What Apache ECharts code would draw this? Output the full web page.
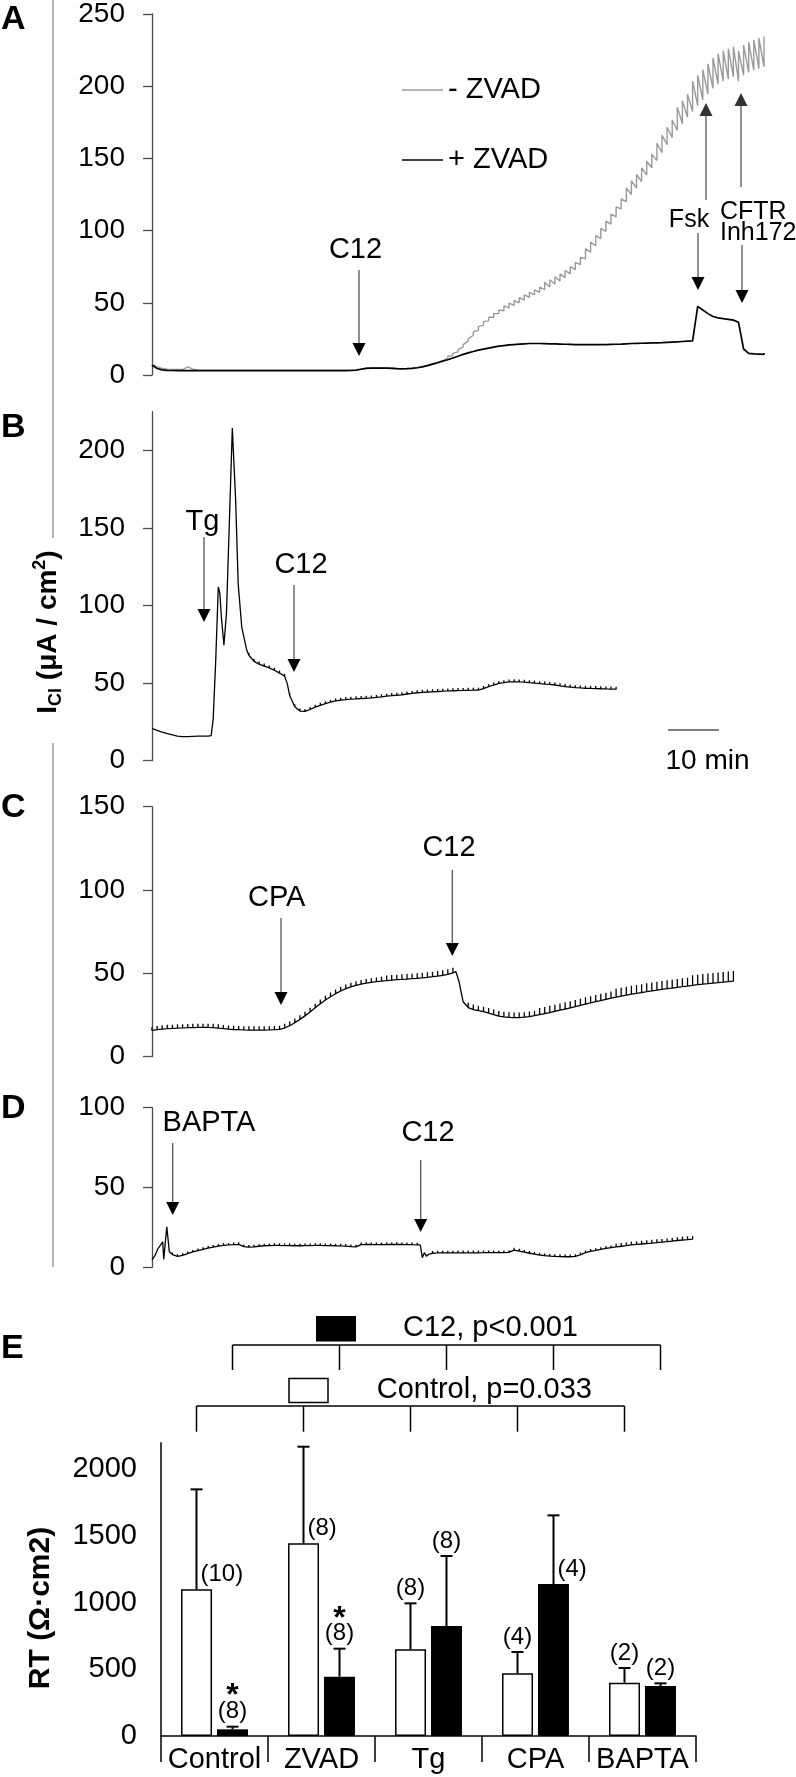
<!DOCTYPE html>
<html><head><meta charset="utf-8">
<script src="https://cdn.jsdelivr.net/npm/echarts@6/dist/echarts.min.js"></script>
<style>html,body{margin:0;padding:0;background:#fff}#c{width:796px;height:1777px}</style>
</head><body><div id="c"></div>
<script>
const FONT = '"Liberation Sans", Arial, Helvetica, sans-serif';

// ---------- Panel A : I_Cl (uA/cm2), one sample per minute ----------
const DT = 1;
const aPlusZvad = [6.9,4.5,3.6,3.2,3.1,3.0,3.0,3.0,3.0,3.0,
3.0,3.0,3.0,3.0,3.0,3.0,3.0,3.0,3.0,3.0,
3.0,3.0,3.0,3.0,3.0,3.0,3.0,3.0,3.0,3.0,
3.0,3.0,3.0,3.0,3.0,3.0,3.0,3.0,3.0,3.1,
3.3,4.0,4.6,4.8,4.8,4.8,4.7,4.6,4.4,4.3,
4.4,4.6,5.0,5.6,6.5,7.5,8.5,9.6,10.6,11.8,
13.0,14.3,15.3,16.3,17.2,17.9,18.6,19.3,20.0,20.4,
20.8,21.1,21.4,21.6,21.8,21.8,21.8,21.7,21.6,21.5,
21.4,21.3,21.2,21.1,21.0,21.0,21.0,21.0,21.0,21.1,
21.2,21.3,21.4,21.6,21.8,21.9,22.0,22.1,22.2,22.3,
22.4,22.6,22.8,23.0,23.2,23.4,23.6,47.5,45.0,42.5,
40.5,39.6,39.0,38.5,38.0,36.5,18.0,15.0,14.6,14.5,
14.3];
const aMinusZvad = [7.5,5.6,4.6,4.1,3.9,3.8,3.8,5.6,4.0,3.5,
3.4,3.4,3.4,3.4,3.4,3.4,3.4,3.4,3.4,3.4,
3.4,3.4,3.4,3.4,3.4,3.4,3.4,3.4,3.4,3.4,
3.4,3.4,3.4,3.4,3.4,3.4,3.4,3.4,3.4,3.5,
3.7,4.2,4.7,4.9,4.9,4.9,4.8,4.7,4.5,4.4,
4.5,4.7,5.1,5.7,6.6,7.6,8.7,10.0,11.5,13.5,
16.0,19.5,23.5,27.5,31.0,34.5,37.5,40.0,42.5,44.5,
46.3,48.2,50.0,52.0,53.8,55.5,57.3,59.2,61.0,63.0,
65.0,67.4,70.0,73.0,76.5,80.5,85.0,89.5,94.5,99.5,
104.5,109.5,115.0,120.0,125.0,129.5,134.0,138.5,143.5,148.5,
154.0,159.5,164.5,169.5,174.0,178.5,182.5,186.5,190.5,194.5,
198.5,201.5,203.5,205.0,206.5,203.5,207.5,209.5,211.0,212.3,
213.5];
// pulse (voltage-clamp) deflection amplitude: [fromMin, toMin, amplitude]
const aPlusPulse = [[62,106,1.0],[108,120,1.0]];
const aMinusPulse = [[58,62,1.5],[63,68,2.5],[69,76,3.5],[77,84,5],[85,92,7],[93,98,9.5],[99,102,12],[103,105,16],[106,120,21]];

// ---------- Panel B : Tg ----------
const bTrace = [[0,20.9],[1,19.6],[2,18.4],[3,17.4],[4,16.6],[5,15.9],[6,15.5],[7,15.5],[8,15.7],[9,15.8],[10,15.9],[11,15.9],[11.6,16.2],[12,27],[12.5,65],[13,112],[13.3,108],[13.6,92.7],[14.1,74.5],[14.6,95],[15.2,157],[15.75,214.4],[16.4,168],[16.9,114],[17.6,86],[18.6,71],[19,68],[20,64],[21,62.3],[22,61],[23,59.8],[24,58.3],[25,56.5],[26,54.5],[26.5,50],[27,42],[28,34.8],[29,32],[30,31.8],[31,33],[32,34.5],[33,35.7],[34,36.8],[35,37.7],[36,38.5],[37,39],[38,39.4],[39,39.7],[40,39.9],[41,40.1],[42,40.2],[43,40.5],[44,40.8],[45,41.2],[46,41.6],[47,42],[48,42.2],[49,42.5],[50,43],[51,43.4],[52,43.8],[53,44.1],[54,44.3],[55,44.4],[56,44.6],[57,44.8],[58,45],[59,45.1],[60,45.2],[61,45.3],[62,45.4],[63,45.5],[64,45.5],[65,46.5],[66,47.7],[67,48.8],[68,49.8],[69,50.3],[70,50.8],[71,50.9],[72,50.8],[73,50.6],[74,50.3],[75,50],[76,49.7],[77,49.4],[78,49.2],[79,48.8],[80,48.3],[81,47.8],[82,47.4],[83,47.1],[84,46.9],[85,46.7],[86,46.6],[87,46.5],[88,46.4],[89,46.3],[90,46.2],[91,46.1]];
const bPulse = [[1,11,1.2],[19,91,1.6]];

// ---------- Panel C : CPA ----------
const cTrace = [[0,15.6],[1,16.2],[2,16.6],[3,16.9],[4,17.0],[5,17.2],[6,17.3],[7,17.4],[8,17.5],[9,17.6],[10,17.6],[11,17.6],[12,17.5],[13,17.2],[14,16.8],[15,16.5],[16,16.3],[17,16.2],[18,16.1],[19,16.0],[20,16.0],[21,16.0],[22,16.0],[23,16.1],[24,16.2],[25,16.4],[26,17.2],[27,18.6],[28,20.4],[29,22.4],[30,24.5],[31,26.8],[32,29.3],[33,31.8],[34,34.0],[35,36.0],[36,37.8],[37,39.4],[38,40.8],[39,41.9],[40,42.8],[41,43.5],[42,44.1],[43,44.6],[44,45.0],[45,45.4],[46,45.7],[47,46.0],[48,46.2],[49,46.4],[50,46.6],[51,46.8],[52,47.0],[53,47.3],[54,47.6],[55,48.0],[56,48.4],[57,48.8],[58,49.4],[59,50.3],[59.6,51],[60.2,45],[60.6,39],[61,33],[62,29.5],[63,28.3],[64,27.6],[65,27],[66,26.2],[67,25.3],[68,24.4],[69,23.9],[70,23.6],[71,23.5],[72,23.5],[73,23.7],[74,24.1],[75,24.6],[76,25.2],[77,25.8],[78,26.5],[79,27.2],[80,27.9],[81,28.6],[82,29.3],[83,30.0],[84,30.8],[85,31.6],[86,32.3],[87,33.0],[88,33.7],[89,34.4],[90,35.1],[91,35.8],[92,36.4],[93,37.0],[94,37.5],[95,38.0],[96,38.5],[97,39.0],[98,39.5],[99,40.0],[100,40.4],[101,40.8],[102,41.2],[103,41.6],[104,42.0],[105,42.4],[106,42.8],[107,43.2],[108,43.6],[109,43.9],[110,44.2],[111,44.5],[112,44.8],[113,45.1],[114,45.4]];
const cPulse = [[0,25,2.2],[26,45,2.5],[46,59,3],[62,75,3],[76,90,4],[91,105,5],[106,114,6]];

// ---------- Panel D : BAPTA ----------
const dTrace = [[0,4.6],[0.6,7.5],[1.2,11.9],[1.8,14.5],[2.1,16],[2.3,5],[2.5,12],[2.9,25.4],[3.4,9.8],[4,8.0],[5,6.8],[6,7.5],[7,8.6],[8,9.6],[9,10.5],[10,11.3],[11,12.0],[12,12.7],[13,13.3],[14,13.7],[15,14.0],[16,14.2],[17,14.4],[18,13.0],[19,12.6],[20,12.8],[21,13.2],[22,13.5],[23,13.6],[24,13.7],[25,13.7],[26,13.6],[27,13.6],[28,13.5],[29,13.5],[30,13.6],[31,13.6],[32,13.7],[33,13.7],[34,13.6],[35,13.6],[36,13.5],[37,13.4],[38,13.3],[39,13.0],[40,12.8],[41,14.2],[42,14.3],[43,14.3],[44,14.2],[45,14.2],[46,14.3],[47,14.3],[48,14.4],[49,14.3],[50,14.2],[51,14.2],[52,14.1],[52.6,14.0],[53,6.0],[53.4,9.2],[53.8,7.0],[54.3,8.2],[55,8.8],[56,9.0],[57,9.0],[58,9.0],[59,9.0],[60,9.1],[61,9.1],[62,9.1],[63,9.1],[64,9.1],[65,9.2],[66,9.2],[67,9.2],[68,9.2],[69,9.2],[70,9.3],[71,10.8],[72,10.2],[73,9.5],[74,8.8],[75,8.2],[76,7.7],[77,7.3],[78,7.0],[79,6.8],[80,6.7],[81,6.6],[82,6.6],[83,6.8],[84,7.8],[85,9.2],[86,10.0],[87,10.6],[88,11.2],[89,11.8],[90,12.3],[91,12.8],[92,13.2],[93,13.6],[94,14.0],[95,14.3],[96,14.6],[97,14.9],[98,15.2],[99,15.5],[100,15.8],[101,16.1],[102,16.4],[103,16.8],[104,17.1],[105,17.4],[106,17.6]];
const dPulse = [[4,52,1.3],[55,90,1.4],[91,106,2]];

const ticksA = [0,50,100,150,200,250];
const ticksB = [0,50,100,150,200];
const ticksC = [0,50,100,150];
const ticksD = [0,50,100];

// ---------- Panel E : RT (Ohm*cm2) ----------
const eCategories = ['Control','ZVAD','Tg','CPA','BAPTA'];
const eControl    = [1100,1445,650,470,400];
const eControlErr = [750,725,345,160,110];
const eControlN   = [10,8,8,4,2];
const eC12        = [50,445,825,1140,375];
const eC12Err     = [20,210,525,515,20];
const eC12N       = [8,8,8,4,2];
const eC12Sig     = ['*','*','','',''];
const ticksE = [0,500,1000,1500,2000];

// ---------- helpers ----------
function buildTrace(points, pulses, saw) {
  const out = [];
  for (const [t, v] of points) {
    out.push([t, v]);
    if (Number.isInteger(t)) {
      const seg = pulses.find(s => t >= s[0] && t <= s[1]);
      if (seg) {
        out.push([t, v + seg[2]]);
        if (!saw) out.push([t, v]);
      }
    }
  }
  return out;
}
const toPts = arr => arr.map((v, i) => [i * DT, v]);
const plain = v => String(v);

function traceY(gi, max, ticks) {
  return {type:'value', gridIndex:gi, min:0, max:max,
    axisLine:{show:true, lineStyle:{color:'#4d4d4d', width:1.3}},
    axisTick:{show:true, length:9, inside:false, customValues:ticks, lineStyle:{color:'#4d4d4d', width:1.3}},
    axisLabel:{customValues:ticks, fontSize:28, color:'#000', margin:27, fontFamily:FONT, formatter:plain},
    splitLine:{show:false}};
}
function traceX(gi) { return {type:'value', gridIndex:gi, min:0, max:120, show:false}; }
function lineSeries(gi, data, color, width) {
  return {type:'line', xAxisIndex:gi, yAxisIndex:gi, data:data, showSymbol:false, symbol:'none',
    lineStyle:{color:color, width:width, join:'bevel'}, silent:true, animation:false};
}

// label placement of the n-counts (style config, not data)
const placeControl = ['right','right','top','top','top'];
const placeC12     = ['top','top','top','right','top'];

function errRender(offset, means, errs, ns, sigs, place) {
  return function (params, api) {
    const i = params.dataIndex;
    const b = api.coord([i, means[i]]);
    const t = api.coord([i, means[i] + errs[i]]);
    const x = b[0] + offset;
    const ch = [
      {type:'line', shape:{x1:x, y1:b[1], x2:x, y2:t[1]}, style:{stroke:'#000', lineWidth:2}},
      {type:'line', shape:{x1:x-6, y1:t[1], x2:x+6, y2:t[1]}, style:{stroke:'#000', lineWidth:2}}
    ];
    const lbl = '(' + ns[i] + ')';
    if (place[i] === 'right') {
      ch.push({type:'text', x:x+4, y:b[1]-15, style:{text:lbl, fontSize:24, fontFamily:FONT, fill:'#000', textAlign:'left', align:'left', textVerticalAlign:'middle', verticalAlign:'middle'}});
    } else {
      ch.push({type:'text', x:x, y:t[1]-15, style:{text:lbl, fontSize:24, fontFamily:FONT, fill:'#000', textAlign:'center', align:'center', textVerticalAlign:'middle', verticalAlign:'middle'}});
      if (sigs && sigs[i]) {
        ch.push({type:'text', x:x, y:t[1]-30, style:{text:sigs[i], fontSize:32, fontWeight:'bold', fontFamily:FONT, fill:'#000', textAlign:'center', align:'center', textVerticalAlign:'middle', verticalAlign:'middle'}});
      }
    }
    return {type:'group', children:ch};
  };
}

const chart = echarts.init(document.getElementById('c'), null, {renderer:'canvas', width:796, height:1777});

const option = {
  animation:false,
  backgroundColor:'#fff',
  textStyle:{fontFamily:FONT},
  grid:[
    {left:152, top:12, width:612, height:363},
    {left:152, top:411.7, width:612, height:349},
    {left:152, top:806.7, width:612, height:250},
    {left:152, top:1107.7, width:612, height:159.6},
    {left:161, top:1442.7, width:535, height:293.3}
  ],
  xAxis:[traceX(0), traceX(1), traceX(2), traceX(3),
    {type:'category', gridIndex:4, data:eCategories,
      axisLine:{lineStyle:{color:'#000', width:1.5}},
      axisTick:{show:true, length:26, interval:0, alignWithLabel:false, lineStyle:{color:'#000', width:1.5}},
      axisLabel:{fontSize:29, color:'#000', margin:9, interval:0, fontFamily:FONT}}
  ],
  yAxis:[traceY(0,250,ticksA), traceY(1,225,ticksB), traceY(2,150,ticksC), traceY(3,100,ticksD),
    {type:'value', gridIndex:4, min:0, max:2200,
      axisLine:{show:true, lineStyle:{color:'#000', width:1.5}},
      axisTick:{show:false},
      axisLabel:{customValues:ticksE, fontSize:29, color:'#000', margin:24, fontFamily:FONT, formatter:plain},
      splitLine:{show:false}}
  ],
  series:[
    lineSeries(0, buildTrace(toPts(aMinusZvad), aMinusPulse, true), '#9a9a9a', 1.4),
    lineSeries(0, buildTrace(toPts(aPlusZvad), aPlusPulse, false), '#000', 1.7),
    lineSeries(1, buildTrace(bTrace, bPulse, false), '#000', 1.3),
    lineSeries(2, buildTrace(cTrace, cPulse, false), '#000', 1.3),
    lineSeries(3, buildTrace(dTrace, dPulse, false), '#000', 1.3),
    {type:'bar', name:'Control', xAxisIndex:4, yAxisIndex:4, data:eControl, barWidth:31, barGap:'16%',
      itemStyle:{color:'#fff', borderColor:'#000', borderWidth:1.5}, silent:true},
    {type:'bar', name:'C12', xAxisIndex:4, yAxisIndex:4, data:eC12, barWidth:31, barGap:'16%',
      itemStyle:{color:'#000'}, silent:true},
    {type:'custom', xAxisIndex:4, yAxisIndex:4, clip:false, silent:true, z:5,
      data:eCategories.map((c,i)=>[i, eControl[i]+eControlErr[i]]),
      renderItem:errRender(-18, eControl, eControlErr, eControlN, null, placeControl)},
    {type:'custom', xAxisIndex:4, yAxisIndex:4, clip:false, silent:true, z:5,
      data:eCategories.map((c,i)=>[i, eC12[i]+eC12Err[i]]),
      renderItem:errRender(18, eC12, eC12Err, eC12N, eC12Sig, placeC12)}
  ]
};
chart.setOption(option);

// ---------- annotations ----------
const G = [];
function txt(x, y, s, size, o) {
  o = o || {};
  const al = o.align || 'center';
  G.push({type:'text', x:x, y:y, rotation:o.rot || 0, silent:true,
    style:{text:s, fontSize:size, fontFamily:FONT, fontWeight:o.bold ? 'bold' : 'normal', fill:o.color || '#000',
      textAlign:al, align:al, textVerticalAlign:'middle', verticalAlign:'middle'}});
}
function seg(x1, y1, x2, y2, color, w) {
  G.push({type:'line', silent:true, shape:{x1:x1, y1:y1, x2:x2, y2:y2}, style:{stroke:color || '#000', lineWidth:w || 1.5}});
}
function arrow(x, y0, tip, lineColor, headColor) {
  const dir = tip > y0 ? 1 : -1, hh = 13, hw = 6.5;
  const base = tip - dir * hh;
  seg(x, y0, x, base, lineColor || '#555', 1.3);
  G.push({type:'polygon', silent:true, shape:{points:[[x-hw, base],[x+hw, base],[x, tip]]}, style:{fill:headColor || '#000'}});
}

// panel letters
txt(1, 20, 'A', 34, {bold:true, align:'left'});
txt(1, 428, 'B', 34, {bold:true, align:'left'});
txt(1, 808, 'C', 34, {bold:true, align:'left'});
txt(1, 1109, 'D', 34, {bold:true, align:'left'});
txt(1, 1349, 'E', 34, {bold:true, align:'left'});

// shared y title for A-D
seg(53, 0, 53, 538, '#999', 1.5);
seg(53, 743, 53, 1267, '#999', 1.5);
G.push({type:'text', x:48, y:632, rotation:Math.PI/2, silent:true,
  style:{text:'{m|I}{s|Cl}{m| (μA / cm}{p|2}{m|)}', fill:'#000', textAlign:'center', align:'center', textVerticalAlign:'middle', verticalAlign:'middle',
    rich:{
      m:{fontSize:28, fontWeight:'bold', fontFamily:FONT, lineHeight:34, verticalAlign:'middle', fill:'#000'},
      s:{fontSize:18, fontWeight:'bold', fontFamily:FONT, lineHeight:18, verticalAlign:'bottom', fill:'#000'},
      p:{fontSize:18, fontWeight:'bold', fontFamily:FONT, lineHeight:18, verticalAlign:'top', fill:'#000'}
    }}});

// Panel A
seg(402, 90, 443, 90, '#9a9a9a', 1.5);
txt(448, 90, '- ZVAD', 29, {align:'left'});
seg(402, 160, 443, 160, '#000', 1.5);
txt(448, 160, '+ ZVAD', 29, {align:'left'});
txt(355.5, 250, 'C12', 29);
arrow(359, 270, 356);
txt(689, 220, 'Fsk', 25);
arrow(706, 200, 103, '#555', '#333');
arrow(698, 233, 290);
txt(720, 212, 'CFTR', 25, {align:'left'});
txt(720, 233, 'Inh172', 25, {align:'left'});
arrow(741, 187, 93, '#555', '#333');
arrow(742, 245, 303);

// Panel B
txt(202.5, 522, 'Tg', 29);
arrow(204, 537, 622);
txt(301, 565, 'C12', 29);
arrow(294, 585, 672);
seg(668, 730, 719, 730, '#555', 1.5);
txt(707.5, 761, '10 min', 28);

// Panel C
txt(276.7, 898, 'CPA', 29);
arrow(281, 918, 1005);
txt(449, 848, 'C12', 29);
arrow(452.3, 870, 956);

// Panel D
txt(209, 1123, 'BAPTA', 29);
arrow(172.7, 1143, 1215);
txt(428, 1133, 'C12', 29);
arrow(420.7, 1160, 1232);

// Panel E
G.push({type:'text', x:41, y:1608, rotation:Math.PI/2, silent:true,
  style:{text:'RT (Ω·cm2)', fontSize:30, fontWeight:'bold', fontFamily:FONT, fill:'#000', textAlign:'center', align:'center', textVerticalAlign:'middle', verticalAlign:'middle'}});
const cx = eCategories.map((c, i) => chart.convertToPixel({gridIndex:4}, [i, 0])[0]);
const blackX = cx.map(x => x + 18), whiteX = cx.map(x => x - 18);
G.push({type:'rect', silent:true, shape:{x:316, y:1316, width:40, height:25.5}, style:{fill:'#000'}});
txt(403, 1328, 'C12, p<0.001', 29, {align:'left'});
seg(blackX[0], 1345, blackX[4], 1345, '#000', 1.5);
blackX.forEach(x => seg(x, 1345, x, 1370, '#000', 1.5));
G.push({type:'rect', silent:true, shape:{x:289, y:1378.5, width:39, height:24}, style:{fill:'#fff', stroke:'#000', lineWidth:1.5}});
txt(376.7, 1390, 'Control, p=0.033', 29, {align:'left'});
seg(whiteX[0], 1406, whiteX[4], 1406, '#000', 1.5);
whiteX.forEach(x => seg(x, 1406, x, 1431.7, '#000', 1.5));

chart.setOption({graphic:{elements:G}});
</script></body></html>
